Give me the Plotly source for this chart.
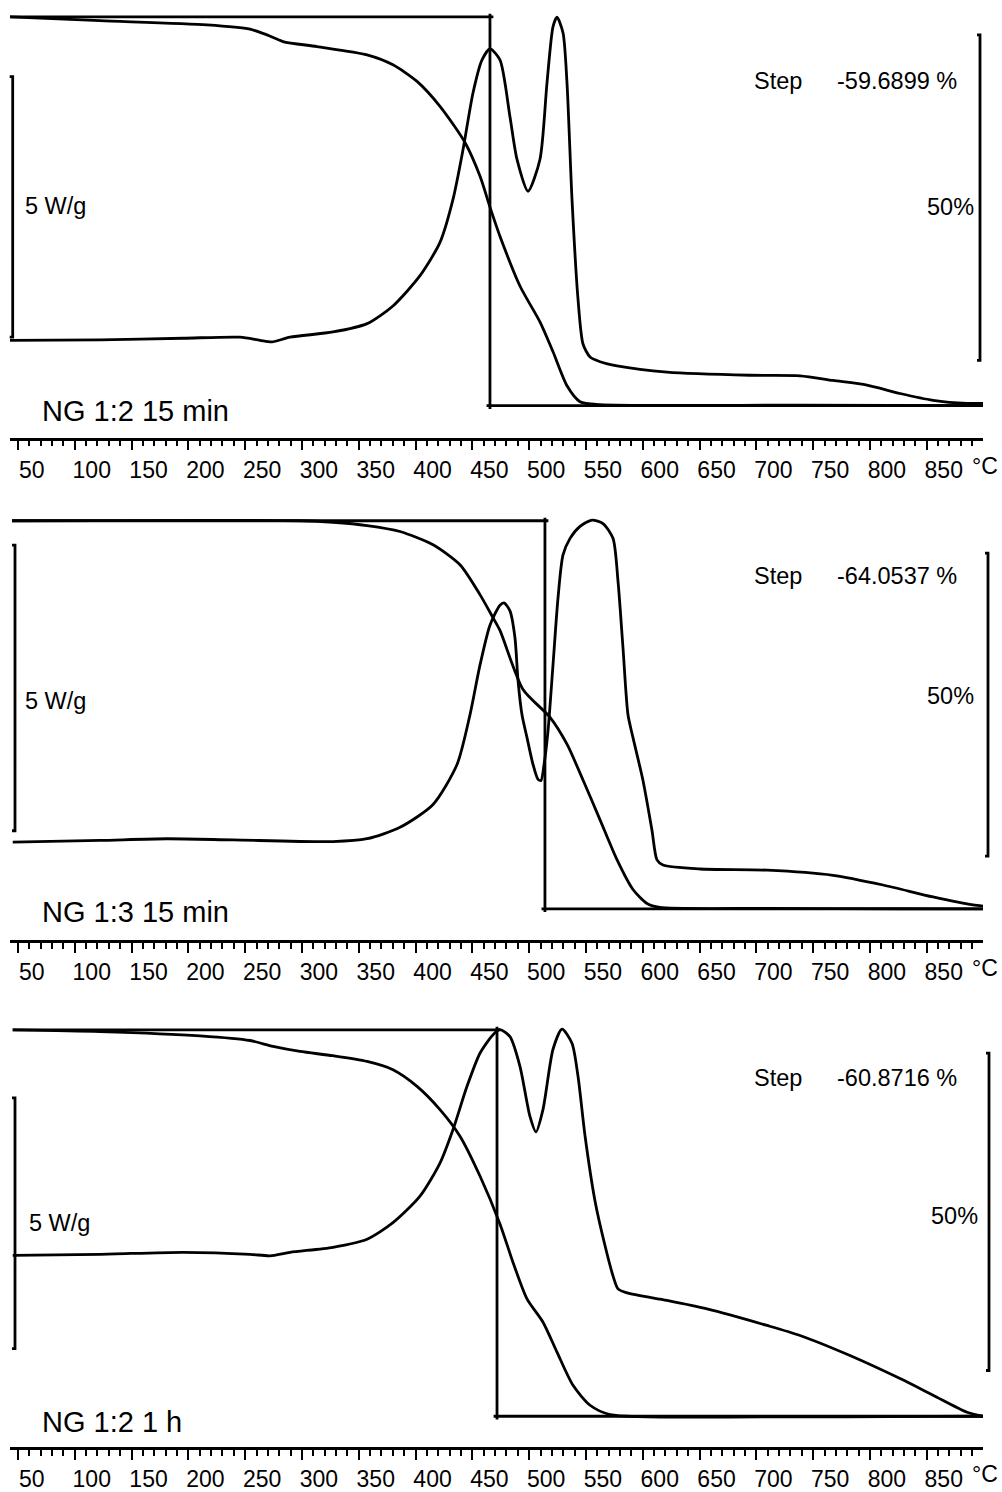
import plotly.graph_objects as go

W, H = 1002, 1492
ML, MR = 10, 19
PW = W - ML - MR
FONT = "Liberation Sans, Arial, sans-serif"

# ---------------- data ----------------
temp_ticks = list(range(50, 900, 50))
tick_text = ["50\u00a0"] + [str(t) for t in temp_ticks[1:]]
x_range = [43, 899.5]

panel_labels = ["NG 1:2 15 min", "NG 1:3 15 min", "NG 1:2 1 h"]
step_pct = [59.6899, 64.0537, 60.8716]
step_mid_T = [465.5, 513.9, 471.7]

# Panel 1 : NG 1:2 15 min
tg1_T = [43.0, 122.2, 216.4, 254.3, 269.2, 283.3, 313.2, 357.3, 380.1, 401.3, 421.5, 443.5,
         456.7, 465.5, 474.3, 491.9, 509.5, 521.0, 533.3, 544.8, 562.4, 738.4, 899.5]
tg1 = [100.0, 99.43, 98.78, 98.12, 97.25, 96.22, 95.45, 94.18, 92.65, 90.10, 86.27, 80.72,
       75.56, 70.8, 66.33, 58.68, 53.17, 48.58, 43.37, 40.92, 40.46, 40.39, 40.31]
dsc1_T = [43.0, 122.2, 195.3, 245.5, 263.1, 273.6, 289.5, 327.3, 357.3, 380.1,
          403.9, 421.5, 433.0, 441.8, 450.6, 458.5, 465.5, 474.3, 483.1, 489.3,
          499.0, 509.5, 515.7, 521.0, 524.5, 529.8, 533.3, 537.7, 543.0, 547.4,
          553.6, 562.4, 577.3, 621.3, 694.4, 738.4, 767.5, 797.4, 826.5, 855.5,
          885.4, 899.5]
dsc1 = [0.01, 0.02, 0.05, 0.07, 0.01, -0.02, 0.07, 0.17, 0.33, 0.67,
        1.25, 1.89, 2.72, 3.67, 4.76, 5.39, 5.60, 5.39, 4.30, 3.48,
        2.87, 3.48, 4.95, 6.03, 6.21, 5.91, 4.95, 2.72, 0.80, -0.06,
        -0.31, -0.40, -0.48, -0.60, -0.66, -0.67, -0.76, -0.85, -1.01, -1.14,
        -1.20, -1.20]

# Panel 2 : NG 1:3 15 min
tg2_T = [44.8, 298.3, 327.3, 357.3, 386.3, 415.4, 439.1, 456.7, 468.2, 474.3, 494.6,
         518.4, 533.3, 547.4, 562.4, 577.3, 591.4, 603.7, 615.1, 709.4, 826.5, 899.5]
tg2 = [100.0, 100.0, 99.75, 99.21, 98.23, 96.03, 92.74, 87.81, 83.99, 81.9, 72.16,
       67.56, 63.13, 57.22, 50.65, 44.08, 39.15, 36.85, 36.20, 36.04, 35.98, 35.95]
dsc2_T = [45.4, 122.2, 181.2, 239.3, 327.3, 357.3, 386.3, 415.4, 436.5, 447.9,
          456.7, 465.5, 474.3, 477.9, 483.1, 487.5, 490.2, 493.7, 498.1, 503.4,
          507.8, 510.4, 513.1, 516.6, 521.0, 525.4, 529.8, 536.0, 544.8, 555.3,
          565.0, 573.8, 578.2, 582.6, 587.0, 591.4, 600.2, 608.1, 612.5, 617.8,
          650.4, 709.4, 767.5, 811.5, 855.5, 890.7, 899.5]
dsc2 = [0.00, 0.03, 0.06, 0.04, 0.01, 0.06, 0.26, 0.66, 1.36, 2.23,
        3.10, 3.80, 4.15, 4.19, 4.05, 3.58, 2.83, 2.23, 1.83, 1.36,
        1.10, 1.08, 1.36, 1.95, 3.11, 4.28, 5.03, 5.32, 5.53, 5.64,
        5.58, 5.32, 4.57, 3.40, 2.23, 1.83, 1.08, 0.21, -0.31, -0.40,
        -0.47, -0.49, -0.58, -0.75, -0.96, -1.10, -1.12]

# Panel 3 : NG 1:2 1 h
tg3_T = [45.4, 122.2, 210.3, 254.3, 274.5, 298.3, 327.3, 357.3, 380.1, 401.3, 421.5, 439.1,
         456.7, 474.3, 485.8, 498.1, 512.2, 524.5, 538.6, 553.6, 571.2, 709.4, 855.5, 899.5]
tg3 = [100.0, 99.73, 99.06, 98.32, 97.38, 96.59, 95.92, 95.02, 93.72, 91.10, 87.44, 83.25,
       76.97, 69.43, 63.36, 57.61, 53.94, 49.23, 44.00, 40.86, 39.40, 39.03, 39.10, 39.13]
dsc3_T = [45.4, 122.2, 195.3, 254.3, 271.9, 289.5, 327.3, 357.3, 380.1, 403.9,
          421.5, 433.0, 445.3, 456.7, 468.2, 474.3, 483.1, 491.9, 500.7, 506.0,
          512.2, 521.0, 528.9, 537.7, 543.0, 549.2, 558.0, 566.8, 573.8, 578.2,
          586.1, 621.3, 656.6, 709.4, 738.4, 782.4, 826.5, 855.5, 885.4, 899.5]
dsc3 = [-0.01, 0.01, 0.05, 0.01, -0.02, 0.05, 0.15, 0.31, 0.64, 1.17,
        1.83, 2.50, 3.36, 4.02, 4.39, 4.49, 4.35, 3.76, 2.76, 2.45,
        2.90, 4.10, 4.50, 4.22, 3.56, 2.37, 1.07, 0.18, -0.42, -0.68,
        -0.76, -0.91, -1.08, -1.41, -1.61, -2.01, -2.47, -2.80, -3.14, -3.22]

# scale bars: 5 W/g (DSC) and 50 % (TG)
dsc_bar_base = [0.07, 0.20, -1.87]
dsc_bar_len = 5
tg_bar_top = [97.25, 94.66, 96.33]
tg_bar_len = 50

# ---------------- layout helpers ----------------
panel_px = [(0, 439), (490, 943), (1000, 1452)]
tg_anchor = [((100, 17), (40.3101, 407)),
             ((100, 522.5), (35.9463, 912)),
             ((100, 1033.3), (39.1284, 1421))]
dsc_anchor = [((0, 342), (5, 80.5)),
              ((0, 845), (5, 558.5)),
              ((0, 1259), (5, 1007.5))]
dsc_bar_xpx = [12.7, 15, 15]
tg_bar_xpx = [980, 988, 989]


def ydom(top, bot):
    return [1 - bot / H, 1 - top / H]


def yrng(top, bot, a1, a2):
    (v1, p1), (v2, p2) = a1, a2
    k = (v2 - v1) / (p2 - p1)
    return [v1 + (bot - p1) * k, v1 + (top - p1) * k]


def px(x):
    return (x - ML) / PW


def py(y):
    return 1 - y / H


data = [(tg1_T, tg1, dsc1_T, dsc1), (tg2_T, tg2, dsc2_T, dsc2), (tg3_T, tg3, dsc3_T, dsc3)]

fig = go.Figure()
layout = dict(width=W, height=H, margin=dict(l=ML, r=MR, t=0, b=0),
              paper_bgcolor="white", plot_bgcolor="white", showlegend=False,
              font=dict(family=FONT, color="black"))
shapes, annotations = [], []
LW = 2.8
line = dict(color="black", width=LW)
curve = dict(color="black", width=LW, shape="spline", smoothing=0.7)

for i in range(3):
    xa = "x" if i == 0 else f"x{i + 1}"
    ytg = "y" if i == 0 else f"y{2 * i + 1}"
    ydsc = f"y{2 * i + 2}"
    tT, tv, dT, dv = data[i]
    top, bot = panel_px[i]

    fig.add_trace(go.Scatter(x=tT, y=tv, xaxis=xa, yaxis=ytg, mode="lines",
                             line=curve, hoverinfo="skip"))
    fig.add_trace(go.Scatter(x=dT, y=dv, xaxis=xa, yaxis=ydsc, mode="lines",
                             line=curve, hoverinfo="skip"))
    # step evaluation lines
    low = 100 - step_pct[i]
    tm = step_mid_T[i]
    fig.add_trace(go.Scatter(x=[tT[0], tm + 3, None, tm, tm, None, tm - 3, tT[-1]],
                             y=[100, 100, None, 100.5, low - 0.5, None, low, low],
                             xaxis=xa, yaxis=ytg, mode="lines", line=line, hoverinfo="skip"))

    xkey = "xaxis" if i == 0 else f"xaxis{i + 1}"
    ytgkey = "yaxis" if i == 0 else f"yaxis{2 * i + 1}"
    ydsckey = f"yaxis{2 * i + 2}"
    layout[xkey] = dict(domain=[0, 1], anchor=ytg, range=x_range, showgrid=False, zeroline=False,
                        showline=True, linewidth=2.5, linecolor="black",
                        ticks="outside", ticklen=10, tickwidth=2, tickcolor="black",
                        tickvals=temp_ticks, ticktext=tick_text, ticklabelshift=17,
                        tickfont=dict(size=23, family=FONT, color="black"),
                        minor=dict(dtick=10, tick0=0, ticks="outside", ticklen=6,
                                   tickwidth=2, tickcolor="black", showgrid=False))
    layout[ytgkey] = dict(domain=ydom(top, bot), anchor=xa, visible=False,
                          range=yrng(top, bot, *tg_anchor[i]))
    layout[ydsckey] = dict(overlaying=ytg, anchor=xa, visible=False,
                           range=yrng(top, bot, *dsc_anchor[i]))

    # scale bars
    s = 3 / PW
    xd = px(dsc_bar_xpx[i])
    b0, b1 = dsc_bar_base[i], dsc_bar_base[i] + dsc_bar_len
    shapes.append(dict(type="path", xref=f"{xa} domain", yref=ydsc,
                       path=f"M {xd - s},{b0} L {xd},{b0} L {xd},{b1} L {xd - s},{b1}",
                       line=dict(color="black", width=LW)))
    xd = px(tg_bar_xpx[i])
    t1, t0 = tg_bar_top[i], tg_bar_top[i] - tg_bar_len
    shapes.append(dict(type="path", xref=f"{xa} domain", yref=ytg,
                       path=f"M {xd - s},{t1} L {xd},{t1} L {xd},{t0} L {xd - s},{t0}",
                       line=dict(color="black", width=LW)))

# text
texts = [
    ("Step", 752, 81, "left", 23.5), ("-59.6899 %", 835, 81, "left", 23.5),
    ("50%", 976, 208, "right", 23.5), ("5 W/g", 23, 207, "left", 23.5),
    (panel_labels[0], 40, 412, "left", 29), ("°C", 970, 468, "left", 23),
    ("Step", 752, 578, "left", 23.5), ("-64.0537 %", 835, 578, "left", 23.5),
    ("50%", 976, 698, "right", 23.5), ("5 W/g", 23, 703, "left", 23.5),
    (panel_labels[1], 40, 915, "left", 29), ("°C", 970, 971, "left", 23),
    ("Step", 752, 1082, "left", 23.5), ("-60.8716 %", 835, 1082, "left", 23.5),
    ("50%", 980, 1220, "right", 23.5), ("5 W/g", 27, 1227, "left", 23.5),
    (panel_labels[2], 40, 1427, "left", 29), ("°C", 970, 1479, "left", 23),
]
for t, x, y, anc, sz in texts:
    annotations.append(dict(text=t, x=px(x), y=py(y), xref="paper", yref="paper",
                            xanchor=anc, yanchor="middle", showarrow=False,
                            font=dict(size=sz, family=FONT, color="black")))

layout["shapes"] = shapes
layout["annotations"] = annotations
fig.update_layout(**layout)
fig.write_html("out.html")
